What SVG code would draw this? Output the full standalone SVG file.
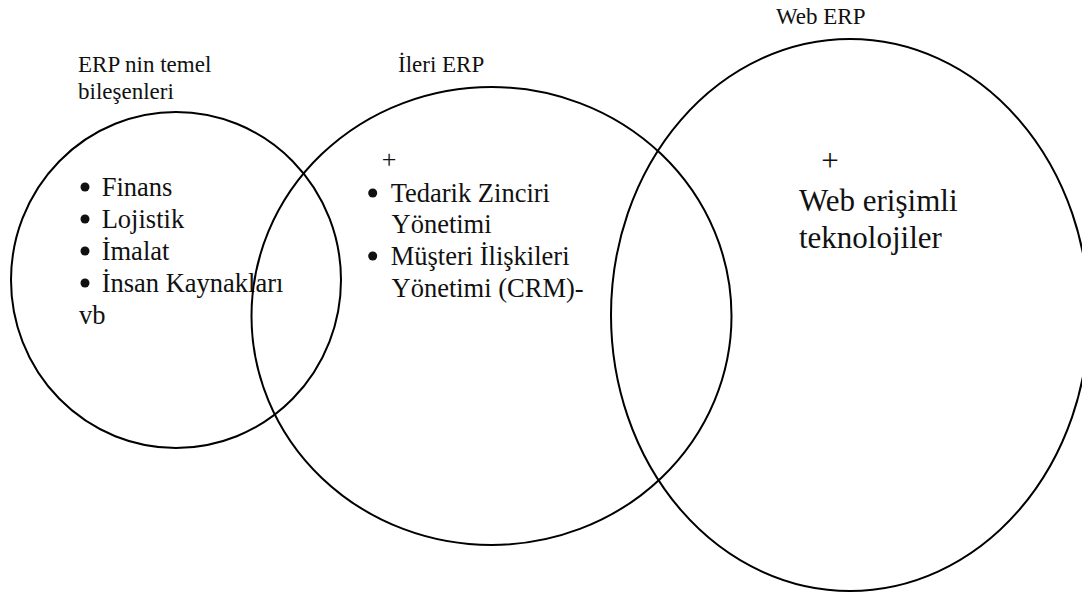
<svg xmlns="http://www.w3.org/2000/svg" width="1082" height="597" viewBox="0 0 1082 597">
  <style>
    .ring { fill: none; stroke: #000; stroke-width: 2; }
    .dot { fill: #111; }
    text { font-family: "Liberation Serif", "Times New Roman", serif; fill: #111; }
    .label { font-size: 23px; }
    .item { font-size: 26.5px; }
    .big { font-size: 31px; }
    .plus { font-size: 26px; }
  </style>

  <g id="connectors"></g>

  <!-- Core ERP components -->
  <g id="node-core">
    <ellipse class="ring" cx="176" cy="280" rx="165" ry="168"/>
    <text class="label" x="78" y="71.5">ERP nin temel</text>
    <text class="label" x="78" y="99">bileşenleri</text>
    <circle class="dot" cx="85" cy="187" r="4.5"/>
    <text class="item" x="101.7" y="196">Finans</text>
    <circle class="dot" cx="85" cy="219" r="4.5"/>
    <text class="item" x="101.7" y="228">Lojistik</text>
    <circle class="dot" cx="85" cy="251" r="4.5"/>
    <text class="item" x="101.7" y="260">İmalat</text>
    <circle class="dot" cx="85" cy="283" r="4.5"/>
    <text class="item" x="101.7" y="292">İnsan Kaynakları</text>
    <text class="item" x="79" y="324">vb</text>
  </g>

  <!-- Advanced ERP -->
  <g id="node-advanced">
    <ellipse class="ring" cx="491.5" cy="316" rx="240" ry="229"/>
    <text class="label" x="398" y="72">İleri ERP</text>
    <text class="plus" x="389" y="168" text-anchor="middle">+</text>
    <circle class="dot" cx="372.7" cy="193" r="4.5"/>
    <text class="item" x="390.7" y="201.7">Tedarik Zinciri</text>
    <text class="item" x="391.5" y="233">Yönetimi</text>
    <circle class="dot" cx="372.7" cy="256" r="4.5"/>
    <text class="item" x="390.7" y="264.5">Müşteri İlişkileri</text>
    <text class="item" x="391.5" y="296.5">Yönetimi (CRM)-</text>
  </g>

  <!-- Web ERP -->
  <g id="node-web">
    <ellipse class="ring" cx="850" cy="315" rx="239" ry="276"/>
    <text class="label" x="776" y="24">Web ERP</text>
    <text class="big" x="830" y="171" text-anchor="middle">+</text>
    <text class="big" x="799" y="210.5">Web erişimli</text>
    <text class="big" x="799" y="248">teknolojiler</text>
  </g>
</svg>
